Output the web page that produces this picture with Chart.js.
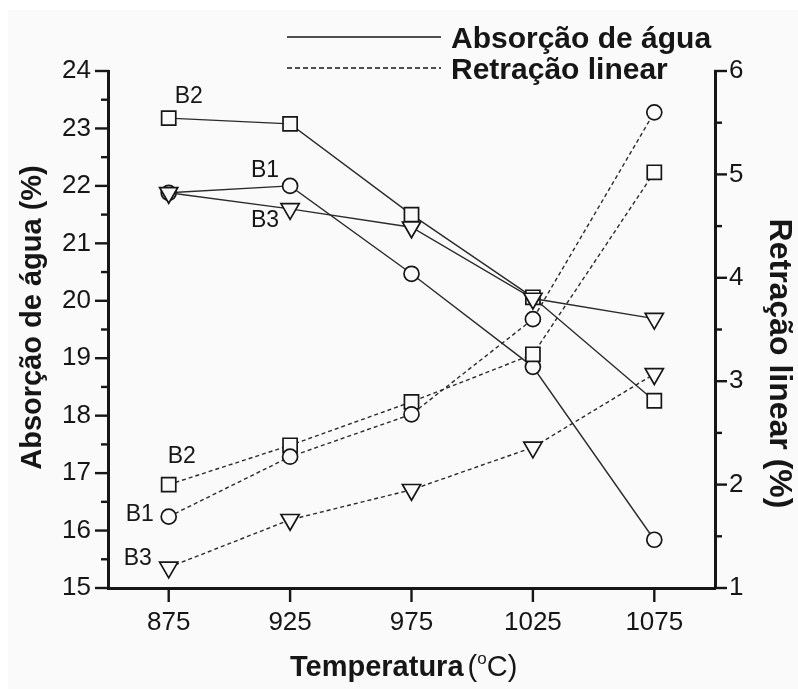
<!DOCTYPE html>
<html>
<head>
<meta charset="utf-8">
<script src="https://cdn.jsdelivr.net/npm/chart.js@4.4.1/dist/chart.umd.min.js"></script>
<style>
  html, body { margin: 0; padding: 0; background: #ffffff; }
  canvas { display: block; }
</style>
</head>
<body>
<canvas id="chart" width="798" height="689"></canvas>
<script>
// Firing temperatures (°C)
const temperatures = ['875', '925', '975', '1025', '1075'];

// Water absorption (%), left axis
const absorcaoB1 = [21.88, 22.00, 20.47, 18.85, 15.84];
const absorcaoB2 = [23.18, 23.08, 21.50, 20.06, 18.26];
const absorcaoB3 = [21.88, 21.60, 21.28, 20.04, 19.69];

// Linear shrinkage (%), right axis
const retracaoB1 = [1.69, 2.27, 2.68, 3.60, 5.60];
const retracaoB2 = [2.00, 2.38, 2.80, 3.26, 5.02];
const retracaoB3 = [1.20, 1.66, 1.95, 2.36, 3.07];

// Axis ranges
const absorcaoRange = [15, 24];
const retracaoRange = [1, 6];

const seriesNames = ['B1', 'B2', 'B3'];
const legendLabels = ['Absorção de água', 'Retração linear'];
const axisTitles = { absorcao: 'Absorção de água (%)', retracao: 'Retração linear (%)', temp: 'Temperatura' };

const INK = '#161616';
const LINE = '#2b2b2b';
const PAPER = '#fafafa';
const FONT = "'Liberation Sans', Arial, Helvetica, sans-serif";

const markers = {
  B1: { pointStyle: 'circle', pointRadius: 7.5, pointRotation: 0 },
  B2: { pointStyle: 'rect', pointRadius: 10, pointRotation: 0 },
  B3: { pointStyle: 'triangle', pointRadius: 10.5, pointRotation: 180 }
};

function series(name, data, axis, dashed, tag, order) {
  return Object.assign({
    label: name,
    data: data,
    yAxisID: axis,
    order: order,
    borderColor: LINE,
    borderWidth: 1.4,
    borderDash: dashed ? [4, 3] : [],
    pointBorderColor: INK,
    pointBackgroundColor: PAPER,
    pointBorderWidth: 1.7,
    tension: 0,
    fill: false,
    tag: tag
  }, markers[name]);
}

const datasets = [
  series(seriesNames[0], absorcaoB1, 'yAbs', false, { index: 1, dx: -25, dy: -15 }, 2),
  series(seriesNames[1], absorcaoB2, 'yAbs', false, { index: 0, dx: 20, dy: -21 }, 2),
  series(seriesNames[2], absorcaoB3, 'yAbs', false, { index: 1, dx: -25, dy: 12 }, 0),
  series(seriesNames[0], retracaoB1, 'yRet', true, { index: 0, dx: -29, dy: -2 }, 1),
  series(seriesNames[1], retracaoB2, 'yRet', true, { index: 0, dx: 13, dy: -28 }, 1),
  series(seriesNames[2], retracaoB3, 'yRet', true, { index: 0, dx: -31, dy: -9 }, 1)
];

// Paper tone of the scanned sheet
const paperPlugin = {
  id: 'paper',
  beforeDraw(chart) {
    const ctx = chart.ctx;
    ctx.save();
    ctx.fillStyle = '#ffffff';
    ctx.fillRect(0, 0, chart.width, chart.height);
    ctx.fillStyle = PAPER;
    ctx.fillRect(8, 10, chart.width, chart.height);
    ctx.restore();
  }
};

// Outward tick marks: long at labelled values, short in between
const tickPlugin = {
  id: 'tickMarks',
  afterDraw(chart) {
    const ctx = chart.ctx;
    const { x, yAbs, yRet } = chart.scales;
    ctx.save();
    ctx.strokeStyle = INK;
    ctx.lineWidth = 2.4;
    ctx.lineCap = 'butt';
    const seg = (x1, y1, x2, y2) => { ctx.beginPath(); ctx.moveTo(x1, y1); ctx.lineTo(x2, y2); ctx.stroke(); };
    yAbs.ticks.forEach((t, i) => {
      const y = yAbs.getPixelForTick(i);
      const len = Number.isInteger(t.value) ? 13 : 7;
      seg(yAbs.right - len, y, yAbs.right + 1, y);
    });
    yRet.ticks.forEach((t, i) => {
      const y = yRet.getPixelForTick(i);
      const len = Number.isInteger(t.value) ? 12 : 7;
      seg(yRet.left - 1, y, yRet.left + len, y);
    });
    x.ticks.forEach((t, i) => {
      const px = x.getPixelForTick(i);
      seg(px, x.top - 1, px, x.top + 14);
    });
    ctx.restore();
  }
};

// Series tags, titles and the line-style key
const textPlugin = {
  id: 'texts',
  afterDraw(chart) {
    const ctx = chart.ctx;
    const area = chart.chartArea;
    ctx.save();
    ctx.fillStyle = INK;

    // B1 / B2 / B3 tags next to their points
    ctx.font = '23px ' + FONT;
    ctx.textAlign = 'center';
    ctx.textBaseline = 'middle';
    chart.data.datasets.forEach((ds, di) => {
      const pt = chart.getDatasetMeta(di).data[ds.tag.index];
      ctx.fillText(ds.label, pt.x + ds.tag.dx, pt.y + ds.tag.dy);
    });

    // Left axis title
    ctx.font = 'bold 29px ' + FONT;
    ctx.save();
    ctx.translate(33, (area.top + area.bottom) / 2 - 12);
    ctx.rotate(-Math.PI / 2);
    ctx.fillText(axisTitles.absorcao, 0, 0);
    ctx.restore();

    // Right axis title
    ctx.font = 'bold 32px ' + FONT;
    ctx.save();
    ctx.translate(779, (area.top + area.bottom) / 2 + 34);
    ctx.rotate(Math.PI / 2);
    ctx.fillText(axisTitles.retracao, 0, 0);
    ctx.restore();

    // Bottom axis title: "Temperatura (°C)"
    const boldFont = 'bold 29px ' + FONT;
    const normFont = '29px ' + FONT;
    const supFont = '17px ' + FONT;
    ctx.textAlign = 'left';
    ctx.textBaseline = 'alphabetic';
    ctx.font = boldFont; const wT = ctx.measureText(axisTitles.temp + ' ').width;
    ctx.font = normFont; const wP = ctx.measureText('(').width;
    ctx.font = supFont; const wO = ctx.measureText('o').width;
    ctx.font = normFont; const wC = ctx.measureText('C)').width;
    let tx = 290;
    const ty = 676;
    ctx.font = boldFont; ctx.fillText(axisTitles.temp, tx, ty); tx += wT - 4;
    ctx.font = normFont; ctx.fillText('(', tx, ty); tx += wP;
    ctx.font = supFont; ctx.fillText('o', tx, ty - 12); tx += wO;
    ctx.font = normFont; ctx.fillText('C)', tx, ty);

    // Line-style key
    ctx.strokeStyle = INK;
    ctx.lineWidth = 1.5;
    ctx.beginPath(); ctx.moveTo(287, 37); ctx.lineTo(441, 37); ctx.stroke();
    ctx.setLineDash([5, 3]);
    ctx.beginPath(); ctx.moveTo(287, 68); ctx.lineTo(441, 68); ctx.stroke();
    ctx.setLineDash([]);
    ctx.font = 'bold 30px ' + FONT;
    ctx.fillText(legendLabels[0], 451, 48);
    ctx.fillText(legendLabels[1], 451, 79);
    ctx.restore();
  }
};

const tickFont = { family: FONT, size: 26 };

new Chart(document.getElementById('chart'), {
  type: 'line',
  data: { labels: temperatures, datasets: datasets },
  plugins: [paperPlugin, tickPlugin, textPlugin],
  options: {
    responsive: false,
    animation: false,
    devicePixelRatio: 1,
    layout: { padding: { top: 71, left: 0, right: 0, bottom: 0 } },
    plugins: { legend: { display: false }, tooltip: { enabled: false } },
    scales: {
      x: {
        type: 'category',
        offset: true,
        grid: { display: false, drawTicks: false, offset: false },
        border: { display: true, color: INK, width: 3 },
        ticks: { color: INK, font: tickFont, padding: 19, maxRotation: 0, autoSkip: false },
        afterFit(scale) { scale.height = 101; }
      },
      yAbs: {
        type: 'linear',
        position: 'left',
        min: absorcaoRange[0],
        max: absorcaoRange[1],
        grid: { display: false, drawTicks: false },
        border: { display: true, color: INK, width: 3 },
        ticks: {
          stepSize: 0.5, autoSkip: false, color: INK, font: tickFont, padding: 17,
          callback: v => Number.isInteger(v) ? String(v) : ''
        },
        afterFit(scale) { scale.width = 108; }
      },
      yRet: {
        type: 'linear',
        position: 'right',
        min: retracaoRange[0],
        max: retracaoRange[1],
        grid: { display: false, drawTicks: false },
        border: { display: true, color: INK, width: 3 },
        ticks: {
          stepSize: 0.5, autoSkip: false, color: INK, font: tickFont, padding: 14,
          callback: v => Number.isInteger(v) ? String(v) : ''
        },
        afterFit(scale) { scale.width = 83; }
      }
    }
  }
});
</script>
</body>
</html>
